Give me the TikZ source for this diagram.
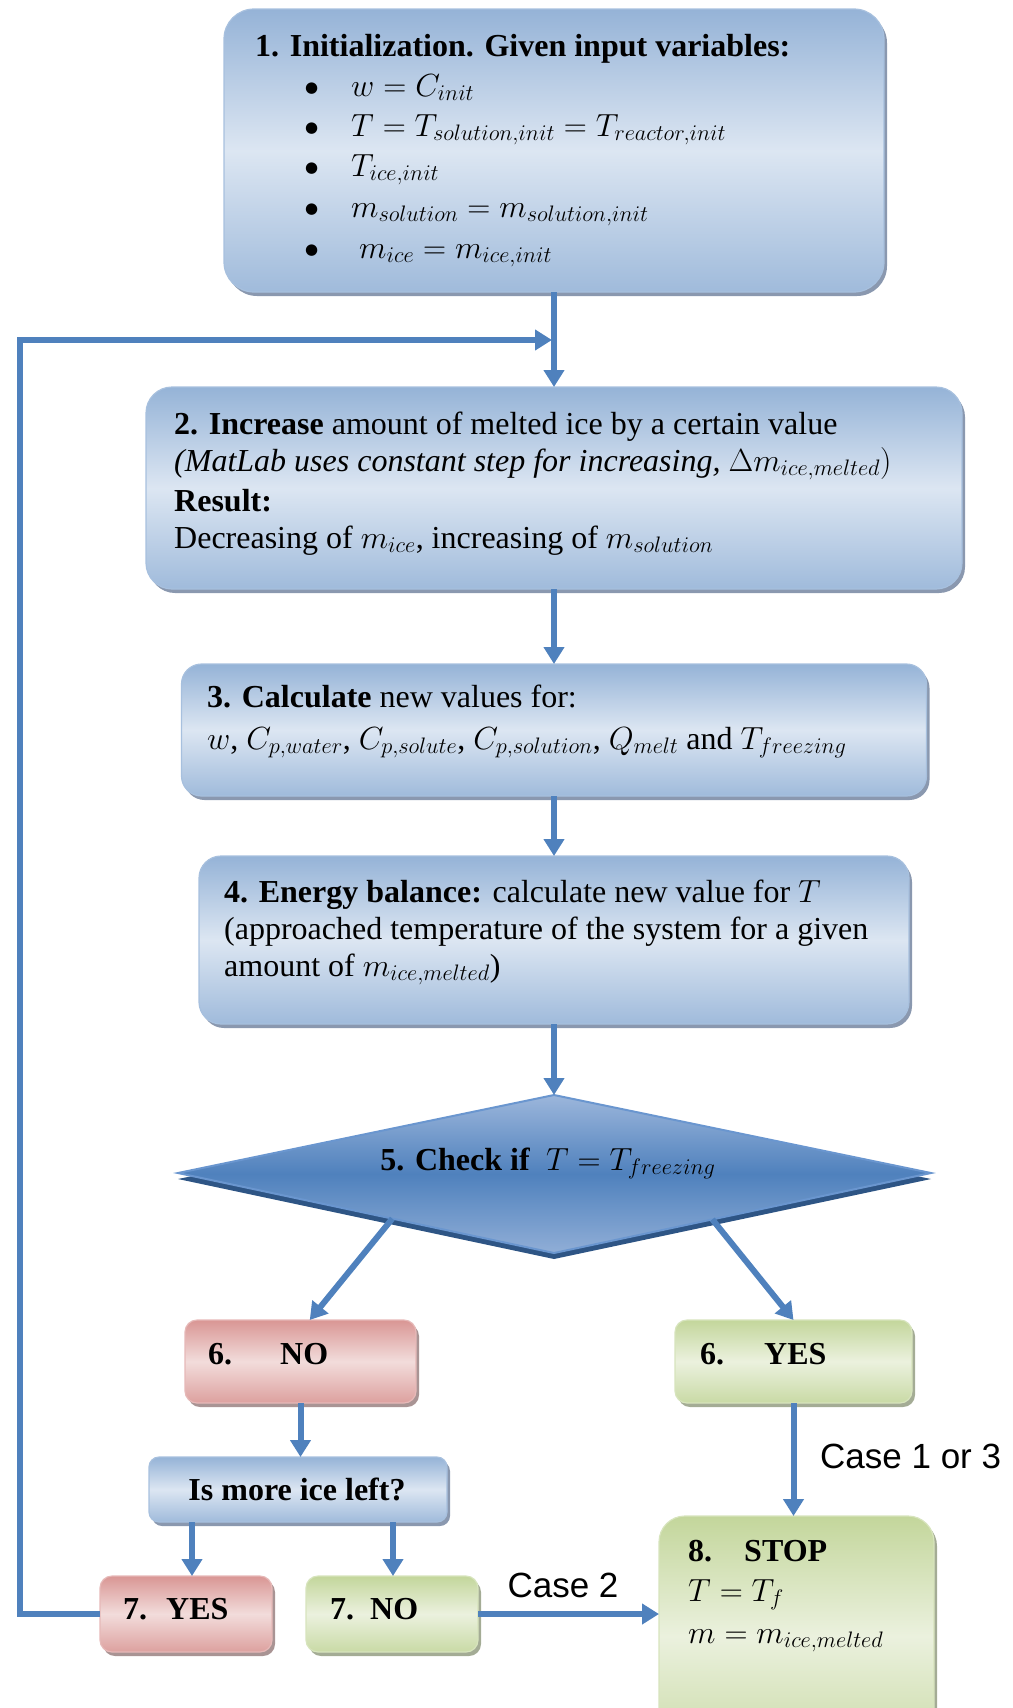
\RequirePackage{fix-cm}
\documentclass[tikz,border=0pt]{standalone}
\usepackage{fontspec}
\setmainfont{Liberation Serif}
\newfontfamily\arialfont{Liberation Sans}
\newfontfamily\bulfont{DejaVu Sans}
\usetikzlibrary{arrows.meta,shadows,calc}
\definecolor{bLight}{HTML}{DCE6F2}
\definecolor{bMid}{HTML}{95B3D7}
\definecolor{bEdge}{HTML}{A7C0DE}
\definecolor{bShadow}{HTML}{7D8DA6}
\definecolor{rLight}{HTML}{F2DCDB}
\definecolor{rMid}{HTML}{D99694}
\definecolor{rEdge}{HTML}{E6B9B8}
\definecolor{rShadow}{HTML}{A08888}
\definecolor{gLight}{HTML}{EBF1DE}
\definecolor{gMid}{HTML}{C3D69B}
\definecolor{gEdge}{HTML}{D7E4BD}
\definecolor{gShadow}{HTML}{9AA38A}
\definecolor{lineBlue}{HTML}{4F81BD}
\definecolor{dTop}{HTML}{9CB6DB}
\definecolor{dEdge}{HTML}{6A96CF}
\definecolor{dShadow}{HTML}{2E5585}
\tikzset{
  boxbase/.style={rectangle, inner sep=0pt, outer sep=0pt, line width=1.2pt, shading angle=-45},
  bluebox/.style={boxbase, draw=bEdge, top color=bMid, bottom color=bMid!85!bLight, middle color=bLight,
    drop shadow={shadow xshift=3pt, shadow yshift=-4pt, fill=bShadow, opacity=0.9}},
  redbox/.style={boxbase, draw=rEdge, top color=rMid, bottom color=rMid!85!rLight, middle color=rLight,
    drop shadow={shadow xshift=3pt, shadow yshift=-4pt, fill=rShadow, opacity=0.9}},
  greenbox/.style={boxbase, draw=gEdge, top color=gMid, bottom color=gMid!85!gLight, middle color=gLight,
    drop shadow={shadow xshift=3pt, shadow yshift=-4pt, fill=gShadow, opacity=0.9}},
  txt/.style={anchor=base west, inner sep=0pt, font=\fontsize{32}{38}\selectfont},
  bul/.style={anchor=base west, inner sep=0pt, font=\bulfont\fontsize{15}{15}\selectfont},
  ctxt/.style={anchor=base, inner sep=0pt, font=\fontsize{32}{38}\selectfont},
  conn/.style={draw=lineBlue, line width=6pt, -{Triangle[width=20pt,length=17pt]}},
  casetxt/.style={inner sep=0pt, font=\arialfont\fontsize{35}{40}\selectfont},
}
\begin{document}
\begin{tikzpicture}[x=1pt,y=-1pt]
\useasboundingbox (0,0) rectangle (1012,1708);
\clip (0,0) rectangle (1012,1708);

% boxes
\node[bluebox, rounded corners=30pt, minimum width=660pt, minimum height=283pt] (b1) at (554,150.5) {};
\node[bluebox, rounded corners=26pt, minimum width=816pt, minimum height=202pt] (b2) at (554,488) {};
\node[bluebox, rounded corners=20pt, minimum width=745pt, minimum height=132pt] (b3) at (554,730) {};
\node[bluebox, rounded corners=22pt, minimum width=710pt, minimum height=168pt] (b4) at (554,940) {};
\node[redbox, rounded corners=12pt, minimum width=231pt, minimum height=83pt] (n6) at (300.5,1361.5) {};
\node[greenbox, rounded corners=12pt, minimum width=237pt, minimum height=83pt] (y6) at (793.5,1361.5) {};
\node[bluebox, rounded corners=10pt, minimum width=298pt, minimum height=65pt] (im) at (298,1489.5) {};
\node[redbox, rounded corners=12pt, minimum width=172pt, minimum height=76pt] (y7) at (186,1614) {};
\node[greenbox, rounded corners=12pt, minimum width=172pt, minimum height=76pt] (n7) at (392,1614) {};
\node[greenbox, rounded corners=26pt, minimum width=275pt, minimum height=240pt] (st) at (796.5,1636) {};

% diamond
\coordinate (dt) at (554,1095);
\coordinate (dr) at (931,1173);
\coordinate (db) at (554,1253);
\coordinate (dl) at (178,1173);
\fill[dShadow] ($(dt)+(0,6)$) -- ($(dr)+(0,6)$) -- ($(db)+(0,6)$) -- ($(dl)+(0,6)$) -- cycle;
\shade[top color=dTop, bottom color=dTop!85!lineBlue, middle color=lineBlue, draw=dEdge, line width=2pt]
  (dt) -- (dr) -- (db) -- (dl) -- cycle;

% box 1 text
\node[txt] (t1) at (255,56) {\textbf{1. Initialization. Given input variables:}};
\node[bul] (t1ba) at (305,92) {●};
\node[bul] (t1bb) at (305,132) {●};
\node[bul] (t1bc) at (305,172) {●};
\node[bul] (t1bd) at (305,213) {●};
\node[bul] (t1be) at (305,254) {●};
\node[txt] (t1a) at (351,96) {$w = C_{init}$};
\node[txt] (t1b) at (351,136) {$T = T_{solution,init} = T_{reactor,init}$};
\node[txt] (t1c) at (351,176) {$T_{ice,init}$};
\node[txt] (t1d) at (351,217) {$m_{solution} = m_{solution,init}$};
\node[txt] (t1e) at (359,258) {$m_{ice} = m_{ice,init}$};

% box 2 text
\node[txt] (t2a) at (174,434) {\textbf{2. Increase} amount of melted ice by a certain value};
\node[txt] (t2b) at (174,471) {\textit{(MatLab uses constant step for increasing, }$\Delta m_{ice,melted})$};
\node[txt] (t2c) at (174,511) {\textbf{Result:}};
\node[txt] (t2d) at (174,548) {Decreasing of $m_{ice}$, increasing of $m_{solution}$};

% box 3 text
\node[txt] (t3a) at (207,707) {\textbf{3. Calculate} new values for:};
\node[txt] (t3b) at (207,749) {$w$, $C_{p,water}$, $C_{p,solute}$, $C_{p,solution}$, $Q_{melt}$ and $T_{freezing}$};

% box 4 text
\node[txt] (t4a) at (224,902) {\textbf{4. Energy balance:} calculate new value for $T$};
\node[txt] (t4b) at (224,939) {(approached temperature of the system for a given};
\node[txt] (t4c) at (224,976) {amount of $m_{ice,melted}$)};

% diamond text
\node[ctxt] (t5) at (548,1170) {\textbf{5. Check if}\ \ $T = T_{freezing}$};

% lower texts
\node[txt] (t6na) at (208,1364) {\textbf{6.}};
\node[txt] (t6nb) at (280,1364) {\textbf{NO}};
\node[txt] (t6ya) at (700,1364) {\textbf{6.}};
\node[txt] (t6yb) at (764,1364) {\textbf{YES}};
\node[ctxt] (tim) at (297,1500) {\textbf{Is more ice left?}};
\node[txt] (t7ya) at (123,1619) {\textbf{7.}};
\node[txt] (t7yb) at (166,1619) {\textbf{YES}};
\node[txt] (t7na) at (330,1619) {\textbf{7.}};
\node[txt] (t7nb) at (370,1619) {\textbf{NO}};
\node[txt] (t8a) at (688,1561) {\textbf{8.}};
\node[txt] (t8b) at (744,1561) {\textbf{STOP}};
\node[txt] (t8c) at (688,1601) {$T = T_f$};
\node[txt] (t8d) at (688,1643) {$m = m_{ice,melted}$};

% connectors
\coordinate (j) at (552,340);
\coordinate (lc) at (20,340);
\coordinate (xa) at (192,0);
\coordinate (xb) at (393,0);
\draw[conn] (b1.south) -- (b2.north);
\draw[conn] (y7.west) -- (lc |- y7.west) -- (lc) -- (j);
\draw[conn] (b2.south) -- (b3.north);
\draw[conn] (b3.south) -- (b4.north);
\draw[conn] (b4.south) -- (dt);
\coordinate (dsl) at ($(db)!0.43!(dl)$);
\coordinate (dsr) at ($(db)!0.42!(dr)$);
\draw[conn] (dsl) -- ($(n6.north west)!0.54!(n6.north east)$);
\draw[conn] (dsr) -- (y6.north);
\draw[conn] (n6.south) -- (n6.south |- im.north);
\draw[conn] (im.south -| xa) -- (y7.north -| xa);
\draw[conn] (im.south -| xb) -- (n7.north -| xb);
\draw[conn] (n7.east) -- (n7.east -| st.west);
\draw[conn] (y6.south) -- (y6.south |- st.north);

\node[casetxt, anchor=west] (c13) at (820,1456) {Case 1 or 3};
\node[casetxt, anchor=base] (c2) at (563,1597) {Case 2};
\end{tikzpicture}
\end{document}
